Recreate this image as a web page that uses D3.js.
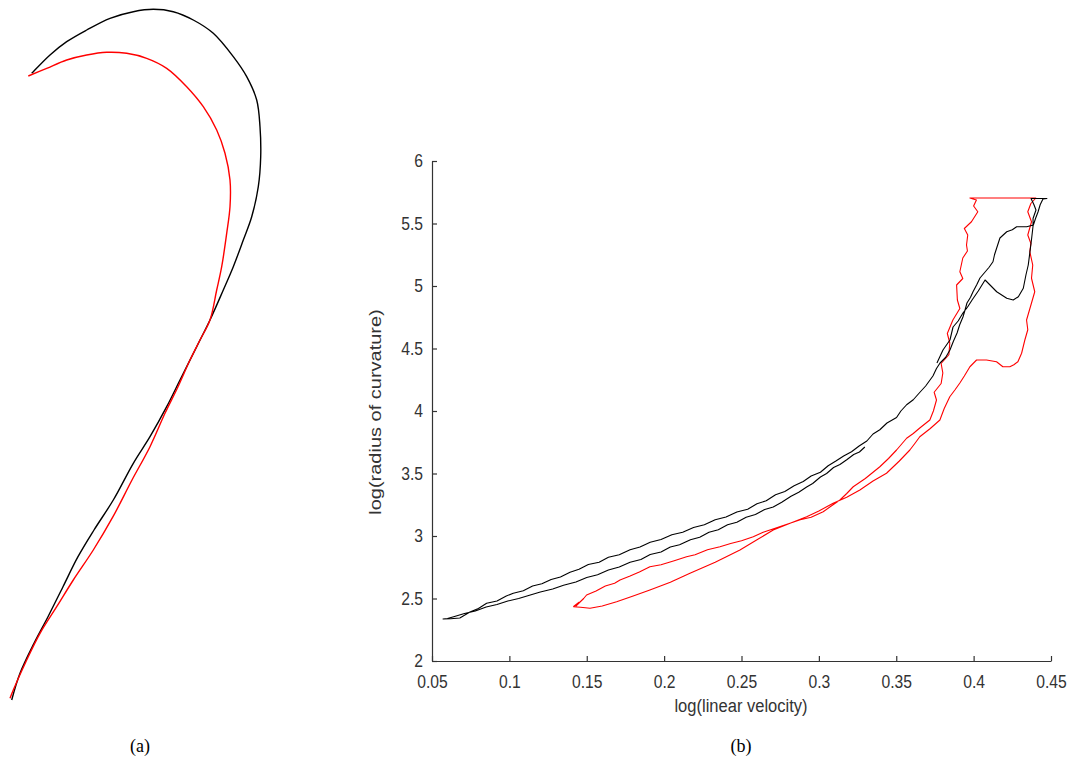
<!DOCTYPE html>
<html><head><meta charset="utf-8">
<script src="https://cdn.jsdelivr.net/npm/d3@7"></script>
<style>html,body{margin:0;padding:0;background:#fff;}svg{display:block;}</style>
</head><body>
<svg id="chart" width="1085" height="758"></svg>
<script>
// ---------- Panel (a): pen trajectories (arbitrary units) ----------
const trajBlack = [
[2.17,62.67],[2.33,62.83],[4.0,64.5],[5.67,65.83],[7.67,67.0],[10.0,68.17],[12.33,68.83],[14.33,69.07],
[16.33,68.83],[18.33,68.0],[20.33,66.67],[22.33,64.33],[23.67,62.33],[24.67,60.0],[25.0,57.33],[25.07,54.33],
[24.83,51.33],[24.17,48.33],[23.33,46.0],[22.33,43.33],[21.33,41.0],[20.0,38.0],[18.67,35.33],[17.0,32.0],
[15.67,29.33],[14.0,26.33],[12.33,23.67],[10.33,20.0],[8.4,17.0],[6.8,14.33],[5.3,11.33],[3.8,8.33],
[2.4,5.67],[1.0,2.67],[0.17,0]
];
const trajRed = [
[1.83,62.4],[3.67,63.17],[5.67,64.0],[7.67,64.5],[9.67,64.77],[11.67,64.67],[13.67,64.17],[15.67,63.17],
[17.67,61.33],[19.33,59.33],[20.67,57.0],[21.5,54.67],[22.0,52.0],[22.0,49.33],[21.67,46.67],[21.17,43.33],
[20.67,41.0],[20.0,38.0],[19.0,36.0],[18.0,34.0],[16.8,31.33],[15.5,28.67],[14.0,25.33],[12.2,22.0],
[10.3,18.33],[8.33,15.0],[6.33,12.0],[4.67,9.33],[3.0,6.67],[1.67,4.0],[0.33,1.0],[0,0.17]
];

// ---------- Panel (b): log(linear velocity) vs log(radius of curvature) ----------
const xTickValues = [0.05,0.1,0.15,0.2,0.25,0.3,0.35,0.4,0.45];
const xTickLabels = ["0.05","0.1","0.15","0.2","0.25","0.3","0.35","0.4","0.45"];
const yTickValues = [2,2.5,3,3.5,4,4.5,5,5.5,6];
const yTickLabels = ["2","2.5","3","3.5","4","4.5","5","5.5","6"];

const blackSeries = [
[0.3297,3.712],[0.3262,3.672],[0.3225,3.652],[0.3180,3.610],[0.3136,3.572],[0.3095,3.548],[0.3050,3.500],[0.3010,3.472],
[0.2960,3.420],[0.2921,3.392],[0.2870,3.350],[0.2820,3.318],[0.2760,3.270],[0.2705,3.232],[0.2650,3.212],[0.2590,3.172],
[0.2530,3.150],[0.2470,3.110],[0.2410,3.090],[0.2350,3.050],[0.2290,3.030],[0.2230,2.990],[0.2170,2.970],[0.2100,2.930],
[0.2040,2.912],[0.1980,2.872],[0.1910,2.852],[0.1850,2.812],[0.1780,2.790],[0.1710,2.752],[0.1640,2.728],[0.1570,2.690],
[0.1500,2.668],[0.1430,2.632],[0.1350,2.606],[0.1280,2.576],[0.1200,2.552],[0.1130,2.526],[0.1060,2.500],[0.0990,2.480],
[0.0920,2.452],[0.0850,2.432],[0.0780,2.400],[0.0710,2.380],[0.0640,2.354],
[0.0600,2.340],[0.0571,2.336],[0.0620,2.338],[0.0680,2.344],
[0.0745,2.392],[0.0800,2.420],[0.0853,2.462],[0.0920,2.480],[0.0980,2.520],[0.1025,2.542],[0.1090,2.562],[0.1150,2.600],
[0.1210,2.618],[0.1270,2.652],[0.1330,2.672],[0.1392,2.710],[0.1450,2.734],[0.1510,2.772],[0.1580,2.790],[0.1640,2.830],
[0.1710,2.850],[0.1780,2.890],[0.1844,2.912],[0.1910,2.950],[0.1980,2.972],[0.2050,3.010],[0.2120,3.030],[0.2190,3.068],
[0.2260,3.090],[0.2330,3.130],[0.2400,3.152],[0.2470,3.192],[0.2540,3.214],[0.2600,3.258],[0.2660,3.282],[0.2720,3.330],
[0.2780,3.356],[0.2840,3.402],[0.2899,3.436],[0.2950,3.480],[0.3010,3.510],[0.3060,3.562],[0.3110,3.600],[0.3160,3.640],
[0.3211,3.674],[0.3260,3.720],[0.3310,3.760],[0.3350,3.816],[0.3394,3.850],[0.3440,3.904],[0.3502,3.948],[0.3530,4.000],
[0.3567,4.050],
[0.3610,4.090],[0.3653,4.150],[0.3690,4.200],[0.3737,4.280],[0.3760,4.340],[0.3783,4.384],[0.3820,4.430],[0.3847,4.488],
[0.3870,4.560],[0.3893,4.624],[0.3910,4.690],[0.3931,4.752],[0.3945,4.810],[0.3957,4.864],[0.3980,4.910],[0.3996,4.954],
[0.4020,5.010],[0.4041,5.064],[0.4074,5.112],
[0.4100,5.150],[0.4125,5.194],[0.4135,5.250],[0.4149,5.304],[0.4170,5.384],[0.4214,5.434],[0.4250,5.450],[0.4278,5.474],
[0.4343,5.474],[0.4386,5.488],
[0.4400,5.540],[0.4416,5.592],[0.4430,5.650],[0.4448,5.696],[0.4474,5.700],[0.4371,5.700],[0.4390,5.650],[0.4403,5.608],
[0.4384,5.540],[0.4384,5.480],
[0.4375,5.382],[0.4364,5.274],[0.4353,5.168],[0.4338,5.088],[0.4321,4.982],[0.4289,4.914],[0.4256,4.888],[0.4214,4.902],
[0.4149,4.954],[0.4106,5.008],[0.4074,5.048],
[0.4030,4.960],[0.3990,4.888],[0.3960,4.830],[0.3931,4.784],[0.3900,4.720],[0.3867,4.672],[0.3847,4.568],[0.3802,4.488],
[0.3763,4.384]
];

const redSeries = [
[0.1413,2.434],[0.1450,2.470],[0.1430,2.440],[0.1480,2.500],[0.1499,2.528],[0.1560,2.560],[0.1620,2.600],[0.1680,2.622],
[0.1715,2.648],[0.1780,2.680],[0.1840,2.712],[0.1908,2.754],[0.1980,2.770],[0.2060,2.800],[0.2145,2.834],[0.2200,2.850],
[0.2280,2.890],[0.2361,2.914],[0.2430,2.940],[0.2500,2.962],[0.2576,2.994],[0.2640,3.030],[0.2703,3.056],[0.2760,3.080],
[0.2813,3.102],[0.2880,3.130],[0.2950,3.150],[0.3028,3.194],[0.3080,3.240],[0.3136,3.288],[0.3180,3.340],[0.3222,3.394],
[0.3300,3.460],[0.3394,3.554],[0.3450,3.620],[0.3502,3.688],[0.3567,3.782],[0.3610,3.820],[0.3652,3.864],[0.3717,3.928],
[0.3740,4.000],[0.3760,4.088],[0.3745,4.150],[0.3790,4.220],[0.3801,4.304],[0.3790,4.380],[0.3840,4.450],[0.3846,4.544],
[0.3830,4.620],[0.3866,4.728],[0.3911,4.820],[0.3895,4.888],[0.3890,5.008],[0.3930,5.060],[0.3911,5.114],[0.3930,5.224],
[0.3960,5.280],[0.3954,5.328],[0.3962,5.408],[0.3940,5.460],[0.3986,5.514],[0.4027,5.594],[0.4000,5.640],[0.4018,5.688],
[0.3976,5.704],
[0.4402,5.704],
[0.4370,5.660],[0.4350,5.594],[0.4374,5.514],[0.4350,5.408],[0.4370,5.340],[0.4363,5.274],[0.4382,5.168],[0.4374,5.062],
[0.4395,4.954],[0.4374,4.864],[0.4342,4.728],[0.4350,4.650],[0.4331,4.568],
[0.4310,4.462],[0.4286,4.394],[0.4260,4.370],[0.4234,4.354],[0.4189,4.354],[0.4148,4.394],[0.4083,4.408],[0.4019,4.408],
[0.3976,4.354],[0.3940,4.280],[0.3911,4.224],[0.3880,4.170],[0.3846,4.114],[0.3810,4.020],[0.3782,3.928],
[0.3720,3.860],[0.3652,3.794],[0.3620,3.740],[0.3588,3.688],[0.3520,3.600],[0.3437,3.502],[0.3350,3.440],[0.3265,3.368],
[0.3180,3.310],[0.3092,3.262],[0.3000,3.200],[0.2921,3.154],[0.2810,3.100],[0.2705,3.048],[0.2600,2.970],[0.2490,2.888],
[0.2330,2.790],[0.2167,2.702],[0.2040,2.630],[0.1908,2.568],[0.1800,2.520],[0.1693,2.474],[0.1600,2.440],[0.1521,2.422],
[0.1460,2.430],[0.1413,2.434]
];

const svg = d3.select("#chart");
svg.append("rect").attr("width",1085).attr("height",758).attr("fill","#fff");

// ---- panel (a)
const xA = d3.scaleLinear().domain([0,26]).range([10,270]);
const yA = d3.scaleLinear().domain([0,70]).range([700,0]);
const lineA = d3.line().x(d=>xA(d[0])).y(d=>yA(d[1])).curve(d3.curveCatmullRom);
svg.append("path").datum(trajBlack).attr("d",lineA).attr("fill","none").attr("stroke","#000").attr("stroke-width",1.4);
svg.append("path").datum(trajRed).attr("d",lineA).attr("fill","none").attr("stroke","#ff0000").attr("stroke-width",1.4);

// ---- panel (b)
const xB = d3.scaleLinear().domain([0.05,0.45]).range([432,1051]);
const yB = d3.scaleLinear().domain([2,6]).range([661,161]);
const SX = 0.87;
const axisColor = "#333";

const gx = svg.append("g").attr("transform","translate(0,661)")
  .call(d3.axisBottom(xB).tickValues(xTickValues).tickFormat((d,i)=>xTickLabels[i])
        .tickSizeInner(-5).tickSizeOuter(0).tickPadding(14));
const gy = svg.append("g").attr("transform","translate(432,0)")
  .call(d3.axisLeft(yB).tickValues(yTickValues).tickFormat((d,i)=>yTickLabels[i])
        .tickSizeInner(-5).tickSizeOuter(0).tickPadding(9));
[gx,gy].forEach(g=>{
  g.select(".domain").attr("stroke",axisColor).attr("stroke-width",1.2);
  g.selectAll(".tick line").attr("stroke",axisColor).attr("stroke-width",1.2);
  g.selectAll(".tick text").attr("fill","#333").attr("font-family","'Liberation Sans', Arial, sans-serif").attr("font-size",18);
});
gx.selectAll(".tick text").attr("transform",`scale(${SX},1)`);
gy.selectAll(".tick text").attr("x",-9/SX).attr("transform",`scale(${SX},1)`);

const lineB = d3.line().x(d=>xB(d[0])).y(d=>yB(d[1]));
svg.append("path").datum(redSeries).attr("d",lineB).attr("fill","none").attr("stroke","#ff0000").attr("stroke-width",1.1).attr("stroke-linejoin","round");
svg.append("path").datum(blackSeries).attr("d",lineB).attr("fill","none").attr("stroke","#000").attr("stroke-width",1.1).attr("stroke-linejoin","round");

// axis titles
svg.append("text").attr("transform",`translate(741,712) scale(${SX},1)`).attr("text-anchor","middle")
  .attr("font-family","'Liberation Sans', Arial, sans-serif").attr("font-size",19).attr("fill","#333").text("log(linear velocity)");
svg.append("text").attr("transform",`translate(381,412) scale(${SX},1) rotate(-90)`).attr("text-anchor","middle")
  .attr("font-family","'Liberation Sans', Arial, sans-serif").attr("font-size",20).attr("fill","#333").text("log(radius of curvature)");

// panel labels
svg.append("text").attr("transform","translate(140,752)").attr("text-anchor","middle")
  .attr("font-family","'Liberation Serif', 'Times New Roman', serif").attr("font-size",18).attr("fill","#000").text("(a)");
svg.append("text").attr("transform","translate(741,752)").attr("text-anchor","middle")
  .attr("font-family","'Liberation Serif', 'Times New Roman', serif").attr("font-size",18).attr("fill","#000").text("(b)");
</script>
</body></html>
